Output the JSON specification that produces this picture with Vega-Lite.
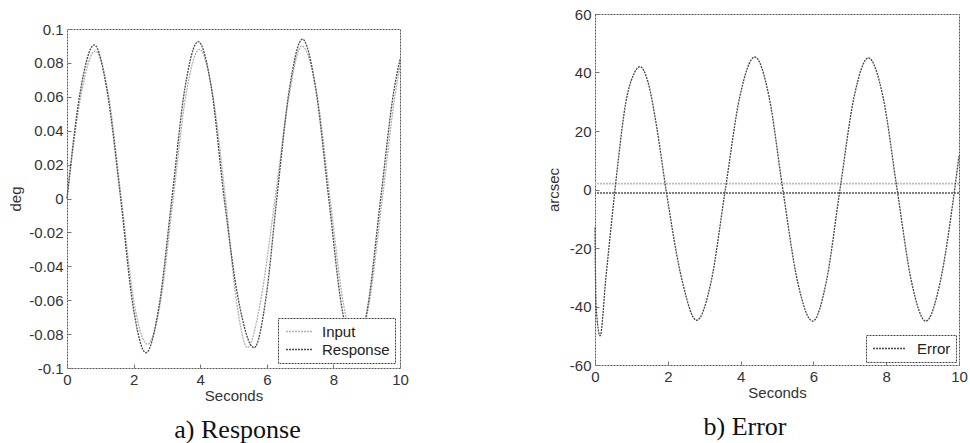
{
  "$schema": "https://vega.github.io/schema/vega-lite/v6.json",
  "padding": {"left": 8, "top": 6, "right": 5, "bottom": 6},
  "background": "white",
  "resolve": {"scale": {"color": "independent"}, "legend": {"color": "independent"}},
  "config": {
    "locale": {"number": {"decimal": ".", "thousands": ",", "grouping": [3], "currency": ["$", ""], "minus": "-"}},
    "view": {"stroke": "#555555", "strokeDash": [2, 1], "strokeWidth": 1},
    "axis": {
      "grid": false, "domain": false,
      "labelFont": "Liberation Sans", "labelFontSize": 15, "labelColor": "#333333",
      "titleFont": "Liberation Sans", "titleFontSize": 15, "titleFontWeight": "normal", "titleColor": "#333333",
      "tickColor": "#777777", "tickSize": -4, "labelPadding": 8,
      "labelFlush": false, "labelOverlap": false
    },
    "legend": {
      "title": null, "fillColor": "white", "strokeColor": "#444444", "strokeDash": [2, 1],
      "padding": 5, "labelFont": "Liberation Sans", "labelFontSize": 15, "labelColor": "#222222",
      "symbolType": "M-1.8,0H1.8", "symbolSize": 225, "symbolStrokeWidth": 1.3, "symbolDash": [2, 1],
      "symbolOffset": 8, "symbolFillColor": "transparent",
      "rowPadding": 1, "labelOffset": 14
    },
    "title": {"font": "Liberation Serif", "fontSize": 26, "fontWeight": "normal", "color": "#111111", "orient": "bottom", "frame": "group", "offset": 14}
  },
  "datasets": {
    "resp": [
      {"t": 0, "series": "Input", "v": 0},
      {"t": 0.43, "series": "Input", "v": 0.062},
      {"t": 0.85, "series": "Input", "v": 0.087},
      {"t": 1.24, "series": "Input", "v": 0.062},
      {"t": 1.63, "series": "Input", "v": 0},
      {"t": 2.02, "series": "Input", "v": -0.062},
      {"t": 2.42, "series": "Input", "v": -0.086},
      {"t": 2.8, "series": "Input", "v": -0.062},
      {"t": 3.19, "series": "Input", "v": 0},
      {"t": 3.58, "series": "Input", "v": 0.062},
      {"t": 3.98, "series": "Input", "v": 0.088},
      {"t": 4.37, "series": "Input", "v": 0.062},
      {"t": 4.76, "series": "Input", "v": 0},
      {"t": 5.1, "series": "Input", "v": -0.062},
      {"t": 5.42, "series": "Input", "v": -0.088},
      {"t": 5.8, "series": "Input", "v": -0.062},
      {"t": 6.25, "series": "Input", "v": 0},
      {"t": 6.68, "series": "Input", "v": 0.062},
      {"t": 7.05, "series": "Input", "v": 0.09},
      {"t": 7.5, "series": "Input", "v": 0.062},
      {"t": 7.9, "series": "Input", "v": 0},
      {"t": 8.3, "series": "Input", "v": -0.062},
      {"t": 8.68, "series": "Input", "v": -0.088},
      {"t": 9.07, "series": "Input", "v": -0.062},
      {"t": 9.47, "series": "Input", "v": 0},
      {"t": 9.86, "series": "Input", "v": 0.062},
      {"t": 10, "series": "Input", "v": 0.078},
      {"t": 0, "series": "Response", "v": 0},
      {"t": 0.39, "series": "Response", "v": 0.062},
      {"t": 0.82, "series": "Response", "v": 0.0906},
      {"t": 1.2, "series": "Response", "v": 0.064},
      {"t": 1.6, "series": "Response", "v": 0.002},
      {"t": 1.98, "series": "Response", "v": -0.063},
      {"t": 2.37, "series": "Response", "v": -0.091},
      {"t": 2.76, "series": "Response", "v": -0.064},
      {"t": 3.15, "series": "Response", "v": 0},
      {"t": 3.54, "series": "Response", "v": 0.065},
      {"t": 3.94, "series": "Response", "v": 0.0925},
      {"t": 4.33, "series": "Response", "v": 0.066},
      {"t": 4.72, "series": "Response", "v": 0},
      {"t": 5.15, "series": "Response", "v": -0.06},
      {"t": 5.62, "series": "Response", "v": -0.088},
      {"t": 5.98, "series": "Response", "v": -0.058},
      {"t": 6.3, "series": "Response", "v": 0},
      {"t": 6.69, "series": "Response", "v": 0.066},
      {"t": 7.07, "series": "Response", "v": 0.094},
      {"t": 7.46, "series": "Response", "v": 0.066},
      {"t": 7.86, "series": "Response", "v": 0},
      {"t": 8.25, "series": "Response", "v": -0.064},
      {"t": 8.64, "series": "Response", "v": -0.09},
      {"t": 9.03, "series": "Response", "v": -0.064},
      {"t": 9.42, "series": "Response", "v": 0},
      {"t": 9.82, "series": "Response", "v": 0.064},
      {"t": 10, "series": "Response", "v": 0.082}
    ],
    "err": [
      {"t": 0, "series": "Error", "v": -13},
      {"t": 0.03, "series": "Error", "v": -40},
      {"t": 0.14, "series": "Error", "v": -50},
      {"t": 0.3, "series": "Error", "v": -30},
      {"t": 0.55, "series": "Error", "v": 0},
      {"t": 0.63, "series": "Error", "v": 9},
      {"t": 0.85, "series": "Error", "v": 30},
      {"t": 1.05, "series": "Error", "v": 39},
      {"t": 1.24, "series": "Error", "v": 42},
      {"t": 1.45, "series": "Error", "v": 37},
      {"t": 1.7, "series": "Error", "v": 21},
      {"t": 1.95, "series": "Error", "v": 0},
      {"t": 2.4, "series": "Error", "v": -31.5},
      {"t": 2.79, "series": "Error", "v": -44.7},
      {"t": 3.19, "series": "Error", "v": -31.5},
      {"t": 3.58, "series": "Error", "v": 0},
      {"t": 3.98, "series": "Error", "v": 31.8},
      {"t": 4.39, "series": "Error", "v": 45.3},
      {"t": 4.78, "series": "Error", "v": 31.8},
      {"t": 5.16, "series": "Error", "v": 0},
      {"t": 5.57, "series": "Error", "v": -31.8},
      {"t": 5.98, "series": "Error", "v": -45},
      {"t": 6.35, "series": "Error", "v": -31.8},
      {"t": 6.73, "series": "Error", "v": 0},
      {"t": 7.12, "series": "Error", "v": 31.8},
      {"t": 7.51, "series": "Error", "v": 45},
      {"t": 7.91, "series": "Error", "v": 31.8},
      {"t": 8.3, "series": "Error", "v": 0},
      {"t": 8.7, "series": "Error", "v": -31.8},
      {"t": 9.09, "series": "Error", "v": -45},
      {"t": 9.48, "series": "Error", "v": -31.8},
      {"t": 9.88, "series": "Error", "v": 0},
      {"t": 10, "series": "Error", "v": 11.5}
    ],
    "bands": [
      {"level": 2, "kind": "upper"},
      {"level": -1.2, "kind": "lower"}
    ]
  },
  "hconcat": [
    {
      "vconcat": [
        {"width": 333, "height": 6, "data": {"values": []}, "mark": "point", "view": {"stroke": "transparent"}},
        {
          "width": 333, "height": 339,
          "title": {"text": "a) Response", "dx": 4},
          "data": {"name": "resp"},
          "mark": {"type": "line", "interpolate": "monotone", "strokeDash": [2, 1], "strokeWidth": 1.3},
          "encoding": {
            "x": {"field": "t", "type": "quantitative", "scale": {"domain": [0, 10], "nice": false},
                  "axis": {"values": [0, 2, 4, 6, 8, 10], "title": "Seconds", "titlePadding": 1}},
            "y": {"field": "v", "type": "quantitative", "scale": {"domain": [-0.1, 0.1], "nice": false, "zero": false},
                  "axis": {"values": [-0.1, -0.08, -0.06, -0.04, -0.02, 0, 0.02, 0.04, 0.06, 0.08, 0.1], "format": "~g", "title": "deg", "titlePadding": 5}},
            "color": {"field": "series", "type": "nominal",
                      "scale": {"domain": ["Input", "Response"], "range": ["#b0b0b0", "#4a4a4a"]},
                      "legend": {"orient": "bottom-right", "offset": 5}}
          }
        }
      ],
      "spacing": 0,
      "resolve": {"scale": {"color": "independent"}, "legend": {"color": "independent"}}
    },
    {
      "width": 364, "height": 351,
      "title": {"text": "b) Error", "dx": -32},
      "layer": [
        {
          "data": {"name": "bands"},
          "transform": [{"filter": "datum.kind == 'upper'"}],
          "mark": {"type": "rule", "color": "#bbbbbb", "strokeWidth": 1.6, "strokeDash": [2, 1]},
          "encoding": {"y": {"field": "level", "type": "quantitative"}}
        },
        {
          "data": {"name": "bands"},
          "transform": [{"filter": "datum.kind == 'lower'"}],
          "mark": {"type": "rule", "color": "#555555", "strokeWidth": 1.3, "strokeDash": [2, 1]},
          "encoding": {"y": {"field": "level", "type": "quantitative"}}
        },
        {
          "data": {"name": "err"},
          "mark": {"type": "line", "interpolate": "monotone", "strokeDash": [2, 1], "strokeWidth": 1.3},
          "encoding": {
            "x": {"field": "t", "type": "quantitative", "scale": {"domain": [0, 10], "nice": false},
                  "axis": {"values": [0, 2, 4, 6, 8, 10], "title": "Seconds", "titlePadding": 1}},
            "y": {"field": "v", "type": "quantitative", "scale": {"domain": [-60, 60], "nice": false, "zero": false},
                  "axis": {"values": [-60, -40, -20, 0, 20, 40, 60], "title": "arcsec", "titlePadding": 8}},
            "color": {"field": "series", "type": "nominal",
                      "scale": {"domain": ["Error"], "range": ["#444444"]},
                      "legend": {"orient": "bottom-right", "offset": 3, "symbolType": "M-2.2,0H2.2", "symbolOffset": 10, "labelOffset": 19}}
          }
        }
      ]
    }
  ],
  "spacing": 136
}
